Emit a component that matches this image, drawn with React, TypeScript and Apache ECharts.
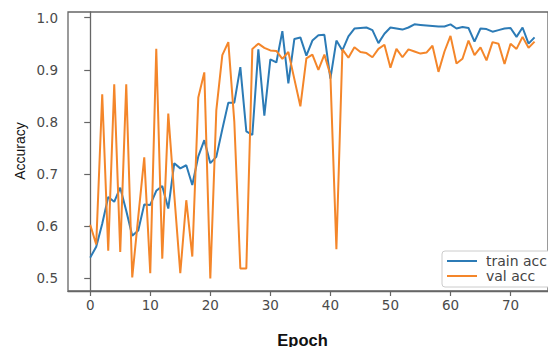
import React, { useEffect, useRef } from "react";
import * as echarts from "echarts";

const trainAcc = [
  0.540, 0.561, 0.605, 0.656, 0.647, 0.674, 0.630, 0.582, 0.592, 0.642,
  0.641, 0.668, 0.677, 0.634, 0.721, 0.711, 0.717, 0.679, 0.734, 0.765,
  0.721, 0.733, 0.786, 0.837, 0.837, 0.905, 0.782, 0.775, 0.939, 0.812,
  0.920, 0.914, 0.974, 0.874, 0.959, 0.962, 0.927, 0.956, 0.966, 0.967,
  0.883, 0.956, 0.937, 0.964, 0.979, 0.980, 0.981, 0.976, 0.951, 0.969,
  0.981, 0.979, 0.977, 0.981, 0.987, 0.986, 0.985, 0.984, 0.983, 0.983,
  0.987, 0.979, 0.982, 0.980, 0.954, 0.979, 0.978, 0.973, 0.976, 0.979,
  0.980, 0.963, 0.981, 0.950, 0.962,
];

const valAcc = [
  0.603, 0.565, 0.853, 0.553, 0.872, 0.551, 0.872, 0.502, 0.618, 0.732,
  0.510, 0.940, 0.538, 0.816, 0.660, 0.510, 0.650, 0.542, 0.847, 0.895,
  0.500, 0.822, 0.928, 0.953, 0.800, 0.519, 0.519, 0.940, 0.950, 0.942,
  0.937, 0.936, 0.921, 0.934, 0.882, 0.830, 0.922, 0.929, 0.900, 0.929,
  0.890, 0.556, 0.939, 0.923, 0.943, 0.934, 0.932, 0.924, 0.940, 0.948,
  0.904, 0.940, 0.924, 0.939, 0.935, 0.931, 0.933, 0.946, 0.896, 0.935,
  0.965, 0.912, 0.921, 0.956, 0.928, 0.943, 0.918, 0.953, 0.950, 0.911,
  0.950, 0.940, 0.963, 0.942, 0.954,
];

const epochs = trainAcc.map((_, i) => i);
const xTicks = [0, 10, 20, 30, 40, 50, 60, 70];
const yTicks = [0.5, 0.6, 0.7, 0.8, 0.9, 1.0];
const seriesNames = ["train acc", "val acc"];

export default function App() {
  const ref = useRef<HTMLDivElement>(null);
  useEffect(() => {
    if (!ref.current) return;
    const chart = echarts.init(ref.current, null, { renderer: "svg" });
    const tickFont = { fontFamily: "DejaVu Sans", fontSize: 13.5, color: "#4a4a4a" };
    chart.setOption({
      animation: false,
      backgroundColor: "#fff",
      grid: {
        left: 68,
        top: 12,
        right: -2,
        bottom: 56,
        show: true,
        borderColor: "#666",
        borderWidth: 1.3,
        backgroundColor: "transparent",
      },
      xAxis: {
        type: "value",
        min: -3.7,
        max: 76.24,
        axisLine: { show: true, lineStyle: { color: "#666", width: 1.3 } },
        axisTick: {
          show: true,
          customValues: xTicks,
          length: 5,
          lineStyle: { color: "#666", width: 1.2 },
        },
        axisLabel: { customValues: xTicks, margin: 7, ...tickFont },
        splitLine: { show: false },
      },
      yAxis: {
        type: "value",
        min: 0.476,
        max: 1.0107,
        axisLine: { show: true, lineStyle: { color: "#666", width: 1.3 } },
        axisTick: {
          show: true,
          customValues: yTicks,
          length: 6,
          lineStyle: { color: "#666", width: 1.2 },
        },
        axisLabel: {
          customValues: yTicks,
          margin: 10,
          formatter: (v: number) => v.toFixed(1),
          ...tickFont,
        },
        splitLine: { show: false },
      },
      legend: {
        orient: "vertical",
        left: 442,
        top: 251,
        data: seriesNames,
        icon: "rect",
        backgroundColor: "#fff",
        borderColor: "#ccc",
        borderWidth: 1,
        borderRadius: 3,
        padding: [3, 30, 4, 5],
        itemWidth: 30,
        itemHeight: 2,
        itemGap: 1,
        textStyle: {
          fontFamily: "DejaVu Sans",
          fontSize: 14,
          color: "#444",
          padding: [0, 0, 0, 4],
        },
      },
      series: [
        {
          name: seriesNames[0],
          type: "line",
          symbol: "none",
          data: epochs.map((e, i) => [e, trainAcc[i]]),
          lineStyle: { color: "#2c7bb6", width: 2 },
          itemStyle: { color: "#2c7bb6" },
          z: 2,
        },
        {
          name: seriesNames[1],
          type: "line",
          symbol: "none",
          data: epochs.map((e, i) => [e, valAcc[i]]),
          lineStyle: { color: "#f4862a", width: 2 },
          itemStyle: { color: "#f4862a" },
          z: 3,
        },
      ],
      graphic: [
        {
          type: "text",
          x: 20,
          y: 151,
          rotation: Math.PI / 2,
          style: {
            text: "Accuracy",
            fontFamily: "Liberation Sans",
            fontSize: 14,
            fill: "#111",
            align: "center",
            verticalAlign: "middle",
          },
        },
        {
          type: "text",
          x: 302.5,
          y: 339.5,
          style: {
            text: "Epoch",
            fontFamily: "Liberation Sans",
            fontSize: 16.5,
            fontWeight: "bold",
            fill: "#111",
            align: "center",
            verticalAlign: "middle",
          },
        },
      ],
    });
    return () => chart.dispose();
  }, []);
  return (
    <div
      ref={ref}
      style={{ position: "fixed", left: 0, top: 0, width: 548, height: 347 }}
    />
  );
}
